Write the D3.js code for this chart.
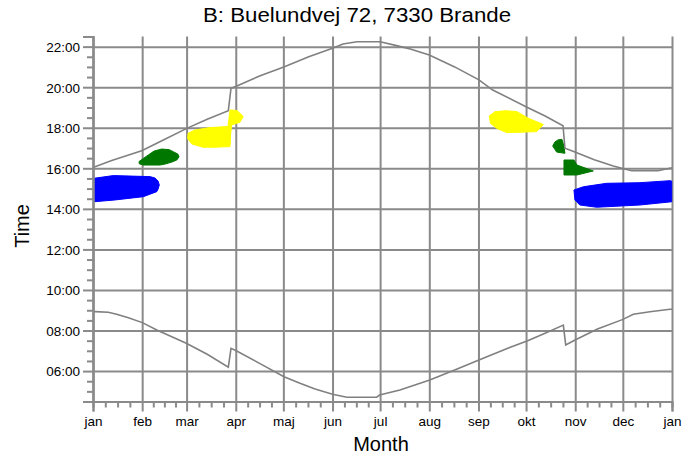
<!DOCTYPE html>
<html>
<head>
<meta charset="utf-8">
<script src="https://cdn.jsdelivr.net/npm/d3@7"></script>
<style>
  html, body { margin: 0; padding: 0; background: #fff; }
  svg { display: block; font-family: "Liberation Sans", Arial, sans-serif; }
</style>
</head>
<body>
<svg id="chart" width="698" height="459"></svg>
<script>
// ---------- DATA ----------
const title = "B: Buelundvej 72, 7330 Brande";
const xTitle = "Month";
const yTitle = "Time";
const monthLabels = ["jan","feb","mar","apr","maj","jun","jul","aug","sep","okt","nov","dec","jan"];
const monthStarts = [0,31,59,90,120,151,181,212,243,273,304,334,365];
const hourTicks = [6,8,10,12,14,16,18,20,22];

// sunset curve: [day of year, hour]
const sunset = [
  [0,16.07],[1.3,16.08],[11.8,16.38],[30.7,16.87],[45,17.42],[59.1,17.97],[72,18.42],[85.3,18.84],
  [87,19.95],[90.3,20.05],[105,20.55],[120.3,21.0],[136,21.5],[151,21.92],[157.6,22.13],[166.4,22.24],
  [181,22.24],[191.4,22.05],[200,21.88],[212,21.59],[228,21.0],[243.3,20.36],[252,19.86],[273.6,19.01],
  [285,18.58],[296.3,18.1],[297.5,16.99],[303.8,16.8],[316,16.42],[328,16.11],[333.3,16.0],[339.6,15.88],
  [356.2,15.88],[365,16.03]
];
// sunrise curve
const sunrise = [
  [0,8.93],[1.3,8.93],[9.6,8.90],[14.9,8.80],[22.3,8.63],[31.1,8.39],[40.2,8.03],
  [58.8,7.37],[72,6.83],[85.3,6.19],[87,7.12],[90.3,7.0],[105,6.38],[120.4,5.72],[130.5,5.40],
  [140,5.12],[151,4.86],[160,4.71],[178.8,4.71],[180.7,4.82],[193.5,5.07],[212.3,5.56],
  [228,6.05],[243.3,6.55],[258,7.02],[274,7.50],[285,7.87],[296.5,8.27],[298,7.29],[303.9,7.53],
  [318,8.07],[334.1,8.55],[340.6,8.80],[351.1,8.93],[363.7,9.05],[365,9.05]
];
// shadow periods (outline polygons: [day, hour])
const blueJan = [[0.8,15.51],[12.8,15.64],[35.9,15.59],[39.1,15.52],[41.0,15.37],[41.8,15.18],
  [41.0,14.97],[40.2,14.85],[31.7,14.60],[13.9,14.44],[0.8,14.35]];
const greenFeb = [[29.0,16.33],[32,16.5],[34.9,16.66],[38.5,16.85],[43.3,16.95],[48,16.92],[50.6,16.82],
  [53.5,16.7],[54.2,16.57],[53,16.42],[50.6,16.33],[46,16.22],[42.2,16.16],[31.7,16.16],[29.2,16.22]];
const yellowMar = [[59.9,17.73],[64.3,17.89],[73.8,18.01],[85.1,18.06],[86.4,18.88],
  [90.8,18.85],[94.7,18.55],[92.6,18.27],[87.4,18.14],[86.7,17.64],[86.4,17.07],
  [76.9,17.04],[69.3,17.04],[62.4,17.20],[59.7,17.45]];
const yellowSep = [[249.8,18.58],[253.4,18.79],[260,18.84],[267.1,18.80],[274.4,18.47],[283.9,18.16],
  [279.7,17.81],[270,17.78],[260.8,17.76],[254.5,17.97],[250.6,18.21]];
const greenOct = [[293.1,17.40],[295.6,17.43],[296.9,17.10],[297.5,16.74],[292.3,16.80],
  [289.8,17.10],[291.2,17.30]];
const greenNov = [[296.9,16.41],[303.2,16.41],[305.1,16.16],[315.4,15.87],[305.1,15.67],
  [296.9,15.67]];
const blueNov = [[303.2,14.93],[309.1,15.09],[323.8,15.26],[344.8,15.29],[363.7,15.39],
  [364.8,15.37],[364.8,14.35],[344.8,14.19],[317.5,14.08],[306.9,14.19],[303.8,14.44]];

const blobs = [
  {pts: blueJan, color: "#0000ff"},
  {pts: greenFeb, color: "#007800"},
  {pts: yellowMar, color: "#ffff00"},
  {pts: yellowSep, color: "#ffff00"},
  {pts: greenOct, color: "#007800"},
  {pts: greenNov, color: "#007800"},
  {pts: blueNov, color: "#0000ff"}
];

// ---------- LAYOUT ----------
const svg = d3.select("#chart");
const pLeft = 93, pRight = 672, pTop = 36.5, pBottom = 401.5;
const x = d3.scaleLinear().domain([0,365]).range([pLeft,pRight]);
const y = d3.scaleLinear().domain([4.5,22.5]).range([pBottom,pTop]);
const gridColor = "#8a8a8a";

// minor tick values
const minorX = [];
for (let i = 0; i < 12; i++) {
  const a = monthStarts[i], b = monthStarts[i+1];
  for (let k = 1; k < 4; k++) minorX.push(a + (b - a) * k / 4);
}
const minorY = [];
for (let h = 5; h <= 22; h += 0.5) if (!hourTicks.includes(h)) minorY.push(h);

// gridlines
svg.append("g").attr("transform", `translate(0,${pBottom})`)
  .call(d3.axisBottom(x).tickValues(monthStarts).tickSize(-(pBottom-pTop)).tickFormat(""))
  .call(g => g.select(".domain").remove())
  .call(g => g.selectAll("line").attr("stroke", gridColor).attr("stroke-width", 2));
svg.append("g").attr("transform", `translate(${pLeft},0)`)
  .call(d3.axisLeft(y).tickValues(hourTicks).tickSize(-(pRight-pLeft)).tickFormat(""))
  .call(g => g.select(".domain").remove())
  .call(g => g.selectAll("line").attr("stroke", gridColor).attr("stroke-width", 2));

// blobs
const area = d3.line().x(d => x(d[0])).y(d => y(d[1])).curve(d3.curveLinearClosed);
svg.append("g").selectAll("path").data(blobs).join("path")
  .attr("d", d => area(d.pts))
  .attr("fill", d => d.color)
  .attr("stroke", d => d.color).attr("stroke-width", 1).attr("stroke-linejoin", "round");

// curves
const line = d3.line().x(d => x(d[0])).y(d => y(d[1]));
[sunset, sunrise].forEach(s => {
  svg.append("path").attr("d", line(s))
    .attr("fill", "none").attr("stroke", "#808080").attr("stroke-width", 1.6);
});

// axes
const fmt = h => String(h).padStart(2, "0") + ":00";
const xAxis = svg.append("g").attr("transform", `translate(0,${pBottom})`)
  .call(d3.axisBottom(x).tickValues(monthStarts).tickSize(10).tickPadding(5)
    .tickFormat((d, i) => monthLabels[i]));
const xMinor = svg.append("g").attr("transform", `translate(0,${pBottom})`)
  .call(d3.axisBottom(x).tickValues(minorX).tickSize(6).tickFormat(""));
const yAxis = svg.append("g").attr("transform", `translate(${pLeft},0)`)
  .call(d3.axisLeft(y).tickValues(hourTicks).tickSize(10).tickPadding(3).tickFormat(fmt));
const yMinor = svg.append("g").attr("transform", `translate(${pLeft},0)`)
  .call(d3.axisLeft(y).tickValues(minorY).tickSize(6).tickFormat(""));
[xAxis, xMinor, yAxis, yMinor].forEach(g => {
  g.select(".domain").attr("stroke", gridColor).attr("stroke-width", 2);
  g.selectAll("line").attr("stroke", gridColor).attr("stroke-width", 2);
  g.selectAll("text").attr("fill", "#000").style("font-size", "13.5px")
    .style("font-family", "'Liberation Sans', Arial, sans-serif");
});
yAxis.selectAll("text").attr("dy", "0.36em");

// titles
svg.append("text").attr("x", 357).attr("y", 22).attr("text-anchor", "middle")
  .attr("textLength", 308).attr("lengthAdjust", "spacingAndGlyphs")
  .style("font-size", "20.5px").text(title);
svg.append("text").attr("x", 381).attr("y", 451).attr("text-anchor", "middle")
  .style("font-size", "20px").text(xTitle);
svg.append("text").attr("transform", "translate(29,226) rotate(-90)").attr("text-anchor", "middle")
  .style("font-size", "20px").text(yTitle);
</script>
</body>
</html>
